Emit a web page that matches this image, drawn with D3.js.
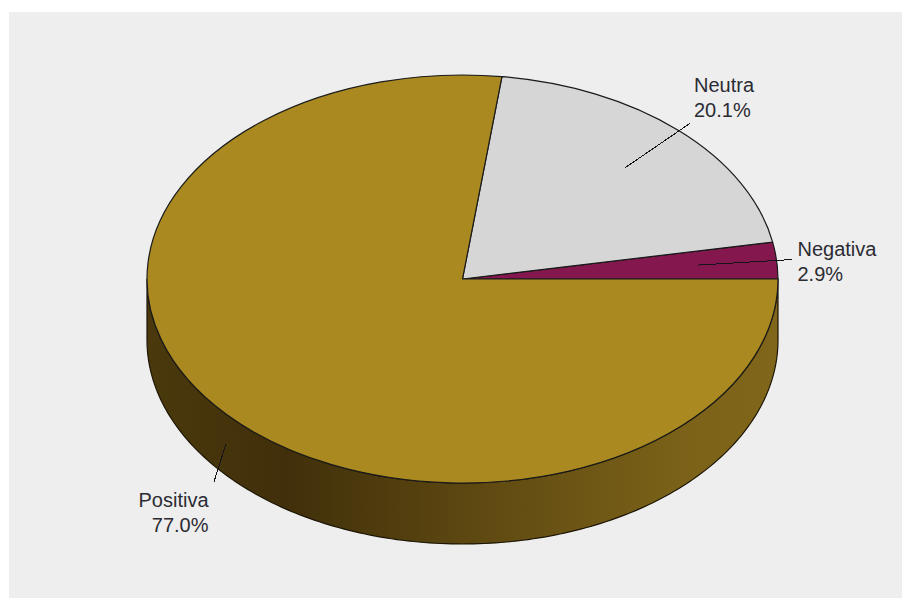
<!DOCTYPE html>
<html>
<head>
<meta charset="utf-8">
<script src="https://cdn.jsdelivr.net/npm/d3@7"></script>
<style>
  html, body { margin: 0; padding: 0; background: #fff; }
  svg { display: block; }
  text { font-family: "Liberation Sans", Arial, sans-serif; font-size: 20px; fill: #2b2b33; }
</style>
</head>
<body>
<svg id="chart" width="902" height="598"></svg>
<script>
// Sentiment share, drawn counter-clockwise from three o'clock.
const categories = ["Negativa", "Neutra", "Positiva"];
const shares = [2.9, 20.1, 77.0];
const sliceColors = ["#85174f", "#d6d6d6", "#aa8a20"];

const width = 902, height = 598;
const cx = 462.5, cy = 279, rx = 315.5, ry = 204, depth = 61;

const svg = d3.select("#chart");

svg.append("rect")
  .attr("x", 9).attr("y", 12)
  .attr("width", width - 9).attr("height", height - 12)
  .attr("fill", "#eeeeee");

// Rim shading runs left to right across the visible lower half.
const shade = svg.append("defs").append("linearGradient")
  .attr("id", "rim")
  .attr("gradientUnits", "userSpaceOnUse")
  .attr("x1", cx - rx).attr("x2", cx + rx)
  .attr("y1", 0).attr("y2", 0);
[[0, "#4b390d"], [0.22, "#402f0a"], [0.5, "#5c4711"], [0.85, "#7b6218"], [1, "#80661a"]]
  .forEach(([o, c]) => shade.append("stop").attr("offset", o).attr("stop-color", c));

const pie = d3.pie().sort(null)
  .startAngle(Math.PI / 2)
  .endAngle(Math.PI / 2 - 2 * Math.PI);
const slices = pie(shares);

// Elliptical projection of a unit-circle point, with d3's clockwise-from-north angle.
const project = (angle, r, drop = 0) => [
  cx + rx * r * Math.sin(angle),
  cy - ry * r * Math.cos(angle) + drop
];

// Rim: front half of the ellipse extruded downward.
const frontAngles = d3.range(0, 181).map(d => (90 + d) * Math.PI / 180);
const rimPoints = [
  ...frontAngles.map(a => project(a, 1)),
  ...frontAngles.slice().reverse().map(a => project(a, 1, depth))
];
svg.append("path")
  .attr("d", d3.line().curve(d3.curveLinearClosed)(rimPoints))
  .attr("fill", "url(#rim)")
  .attr("stroke", "#1c1505")
  .attr("stroke-width", 1.2);

// Top face: slices from d3.arc on a unit circle, squashed into the ellipse.
const arc = d3.arc().innerRadius(0).outerRadius(1);
svg.append("g")
  .attr("transform", `translate(${cx},${cy}) scale(${rx},${ry})`)
  .selectAll("path")
  .data(slices)
  .join("path")
  .attr("d", d => arc({ ...d, startAngle: d.endAngle, endAngle: d.startAngle }))
  .attr("fill", (d, i) => sliceColors[i])
  .attr("stroke", "#1a1a1a")
  .attr("stroke-width", 1.2)
  .attr("stroke-linejoin", "round")
  .attr("vector-effect", "non-scaling-stroke");

// Leader lines: top-face slices start inside the slice, the large slice starts on its rim.
slices.forEach((d, i) => {
  const mid = (d.startAngle + d.endAngle) / 2;
  const onRim = Math.cos(mid) < 0 && i === slices.length - 1;
  const from = onRim ? project(mid, 1, depth / 2) : project(mid, 0.75);
  const to = onRim ? project(mid, 1.05, depth) : project(mid, 1.05);
  svg.append("line")
    .attr("x1", from[0]).attr("y1", from[1])
    .attr("x2", to[0]).attr("y2", to[1])
    .attr("stroke", "#14141a")
    .attr("stroke-width", 1)
    .attr("shape-rendering", "crispEdges");
});

// Two-line callouts: name above percentage.
const labelAnchors = [
  { x: 797.5, y: 255.5, anchor: "start" },
  { x: 694, y: 91.5, anchor: "start" },
  { x: 208.5, y: 506.5, anchor: "end" }
];
const lineGap = 25.5;
categories.forEach((name, i) => {
  const p = labelAnchors[i];
  const t = svg.append("text").attr("text-anchor", p.anchor);
  t.append("tspan").attr("x", p.x).attr("y", p.y).text(name);
  t.append("tspan").attr("x", p.x).attr("y", p.y + lineGap).text(d3.format(".1f")(shares[i]) + "%");
});
</script>
</body>
</html>
